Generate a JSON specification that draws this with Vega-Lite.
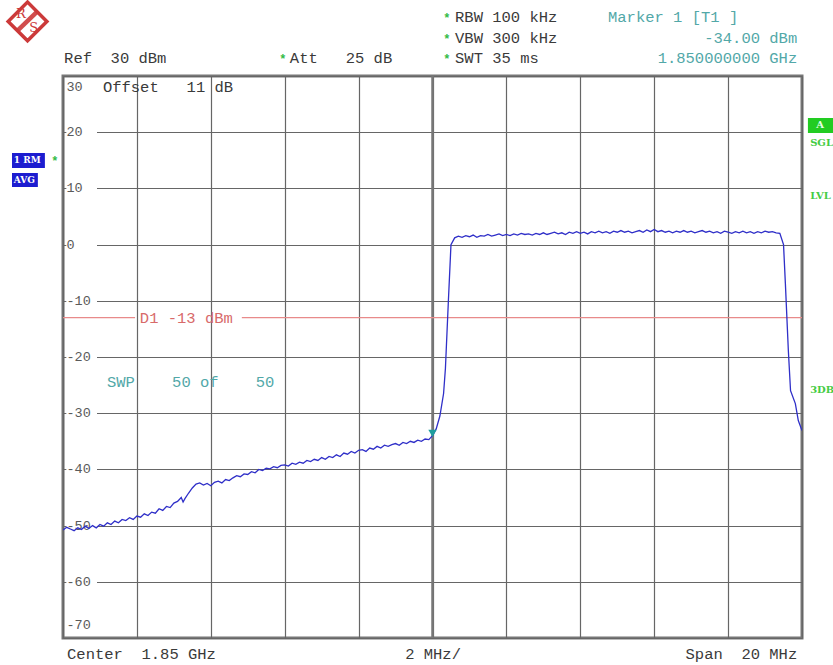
{
  "$schema": "https://vega.github.io/schema/vega-lite/v6.json",
  "width": 739,
  "height": 562,
  "autosize": "none",
  "padding": {"left": 63, "top": 76, "right": 31, "bottom": 27},
  "background": "white",
  "config": {
    "view": {"stroke": "#777777", "strokeWidth": 3},
    "text": {"font": "Liberation Mono", "fontSize": 15.5, "baseline": "middle"}
  },
  "datasets": {
    "trace": [
      {"f":1.8400,"dbm":-50.8},{"f":1.8401,"dbm":-50.3},{"f":1.8402,"dbm":-50.6},{"f":1.8403,"dbm":-50.9},{"f":1.8404,"dbm":-50.4},
      {"f":1.8405,"dbm":-50.7},{"f":1.8406,"dbm":-50.1},{"f":1.8407,"dbm":-50.5},{"f":1.8408,"dbm":-50.0},{"f":1.8409,"dbm":-50.4},
      {"f":1.8410,"dbm":-49.8},{"f":1.8411,"dbm":-50.1},{"f":1.8412,"dbm":-49.5},{"f":1.8413,"dbm":-49.8},{"f":1.8414,"dbm":-49.2},
      {"f":1.8415,"dbm":-49.5},{"f":1.8416,"dbm":-48.9},{"f":1.8417,"dbm":-49.1},{"f":1.8418,"dbm":-48.6},{"f":1.8419,"dbm":-48.9},
      {"f":1.8420,"dbm":-48.3},{"f":1.8421,"dbm":-48.5},{"f":1.8422,"dbm":-47.9},{"f":1.8423,"dbm":-48.2},{"f":1.8424,"dbm":-47.6},
      {"f":1.8425,"dbm":-47.8},{"f":1.8426,"dbm":-47.0},{"f":1.8427,"dbm":-47.3},{"f":1.8428,"dbm":-46.6},{"f":1.8429,"dbm":-46.8},
      {"f":1.8430,"dbm":-46.0},{"f":1.8431,"dbm":-45.7},{"f":1.8432,"dbm":-45.0},{"f":1.84325,"dbm":-45.8},{"f":1.8433,"dbm":-45.2},
      {"f":1.8434,"dbm":-44.2},{"f":1.8435,"dbm":-43.3},{"f":1.8436,"dbm":-42.6},{"f":1.8437,"dbm":-42.4},{"f":1.8438,"dbm":-42.8},
      {"f":1.8439,"dbm":-42.5},{"f":1.8440,"dbm":-42.9},{"f":1.8441,"dbm":-42.3},{"f":1.8442,"dbm":-42.1},{"f":1.8443,"dbm":-42.4},
      {"f":1.8444,"dbm":-41.8},{"f":1.8445,"dbm":-42.0},{"f":1.8446,"dbm":-41.5},{"f":1.8447,"dbm":-41.1},{"f":1.8448,"dbm":-41.3},
      {"f":1.8449,"dbm":-40.8},{"f":1.8450,"dbm":-40.9},{"f":1.8451,"dbm":-40.4},{"f":1.8452,"dbm":-40.6},{"f":1.8453,"dbm":-40.0},
      {"f":1.8454,"dbm":-40.2},{"f":1.8455,"dbm":-39.8},{"f":1.8456,"dbm":-39.9},{"f":1.8457,"dbm":-39.5},{"f":1.8458,"dbm":-39.7},
      {"f":1.8459,"dbm":-39.3},{"f":1.8460,"dbm":-39.2},{"f":1.8461,"dbm":-39.4},{"f":1.8462,"dbm":-38.9},{"f":1.8463,"dbm":-39.1},
      {"f":1.8464,"dbm":-38.7},{"f":1.8465,"dbm":-38.9},{"f":1.8466,"dbm":-38.4},{"f":1.8467,"dbm":-38.6},{"f":1.8468,"dbm":-38.2},
      {"f":1.8469,"dbm":-38.4},{"f":1.8470,"dbm":-37.9},{"f":1.8471,"dbm":-38.2},{"f":1.8472,"dbm":-37.7},{"f":1.8473,"dbm":-37.9},
      {"f":1.8474,"dbm":-37.4},{"f":1.8475,"dbm":-37.7},{"f":1.8476,"dbm":-37.1},{"f":1.8477,"dbm":-37.3},{"f":1.8478,"dbm":-36.8},
      {"f":1.8479,"dbm":-37.1},{"f":1.8480,"dbm":-36.6},{"f":1.8481,"dbm":-36.5},{"f":1.8482,"dbm":-36.8},{"f":1.8483,"dbm":-36.2},
      {"f":1.8484,"dbm":-36.4},{"f":1.8485,"dbm":-35.9},{"f":1.8486,"dbm":-36.2},{"f":1.8487,"dbm":-35.7},{"f":1.8488,"dbm":-35.9},
      {"f":1.8489,"dbm":-35.6},{"f":1.8490,"dbm":-35.4},{"f":1.8491,"dbm":-35.7},{"f":1.8492,"dbm":-35.2},{"f":1.8493,"dbm":-35.4},
      {"f":1.8494,"dbm":-35.0},{"f":1.8495,"dbm":-35.2},{"f":1.8496,"dbm":-34.8},{"f":1.8497,"dbm":-35.0},{"f":1.8498,"dbm":-34.6},
      {"f":1.8499,"dbm":-34.7},{"f":1.8500,"dbm":-34.0},
      {"f":1.8501,"dbm":-32.8},{"f":1.8502,"dbm":-30.5},{"f":1.8503,"dbm":-26.5},{"f":1.85035,"dbm":-22.0},{"f":1.85043,"dbm":-10.0},
      {"f":1.8505,"dbm":0.0},
      {"f":1.8506,"dbm":1.2},{"f":1.8507,"dbm":1.5},{"f":1.8508,"dbm":1.3},{"f":1.8509,"dbm":1.6},{"f":1.8510,"dbm":1.4},
      {"f":1.8511,"dbm":1.7},{"f":1.8512,"dbm":1.3},{"f":1.8513,"dbm":1.6},{"f":1.8514,"dbm":1.5},{"f":1.8515,"dbm":1.8},
      {"f":1.8516,"dbm":1.5},{"f":1.8517,"dbm":1.7},{"f":1.8518,"dbm":1.9},{"f":1.8519,"dbm":1.6},{"f":1.8520,"dbm":1.8},
      {"f":1.8521,"dbm":1.6},{"f":1.8522,"dbm":1.9},{"f":1.8523,"dbm":1.7},{"f":1.8524,"dbm":2.0},{"f":1.8525,"dbm":1.8},
      {"f":1.8526,"dbm":1.9},{"f":1.8527,"dbm":1.7},{"f":1.8528,"dbm":2.0},{"f":1.8529,"dbm":1.8},{"f":1.8530,"dbm":2.1},
      {"f":1.8531,"dbm":1.8},{"f":1.8532,"dbm":2.0},{"f":1.8533,"dbm":2.2},{"f":1.8534,"dbm":1.9},{"f":1.8535,"dbm":2.1},
      {"f":1.8536,"dbm":1.8},{"f":1.8537,"dbm":2.2},{"f":1.8538,"dbm":2.0},{"f":1.8539,"dbm":2.3},{"f":1.8540,"dbm":2.0},
      {"f":1.8541,"dbm":2.2},{"f":1.8542,"dbm":1.9},{"f":1.8543,"dbm":2.3},{"f":1.8544,"dbm":2.1},{"f":1.8545,"dbm":2.4},
      {"f":1.8546,"dbm":2.1},{"f":1.8547,"dbm":2.3},{"f":1.8548,"dbm":2.0},{"f":1.8549,"dbm":2.4},{"f":1.8550,"dbm":2.2},
      {"f":1.8551,"dbm":2.5},{"f":1.8552,"dbm":2.2},{"f":1.8553,"dbm":2.4},{"f":1.8554,"dbm":2.1},{"f":1.8555,"dbm":2.3},
      {"f":1.8556,"dbm":2.5},{"f":1.8557,"dbm":2.2},{"f":1.8558,"dbm":2.6},{"f":1.8559,"dbm":2.3},{"f":1.8560,"dbm":2.7},
      {"f":1.8561,"dbm":2.3},{"f":1.8562,"dbm":2.5},{"f":1.8563,"dbm":2.2},{"f":1.8564,"dbm":2.4},{"f":1.8565,"dbm":2.1},
      {"f":1.8566,"dbm":2.4},{"f":1.8567,"dbm":2.2},{"f":1.8568,"dbm":2.5},{"f":1.8569,"dbm":2.2},{"f":1.8570,"dbm":2.4},
      {"f":1.8571,"dbm":2.1},{"f":1.8572,"dbm":2.3},{"f":1.8573,"dbm":2.5},{"f":1.8574,"dbm":2.2},{"f":1.8575,"dbm":2.4},
      {"f":1.8576,"dbm":2.1},{"f":1.8577,"dbm":2.3},{"f":1.8578,"dbm":2.0},{"f":1.8579,"dbm":2.4},{"f":1.8580,"dbm":2.2},
      {"f":1.8581,"dbm":2.0},{"f":1.8582,"dbm":2.3},{"f":1.8583,"dbm":2.1},{"f":1.8584,"dbm":2.4},{"f":1.8585,"dbm":2.1},
      {"f":1.8586,"dbm":2.3},{"f":1.8587,"dbm":2.0},{"f":1.8588,"dbm":2.3},{"f":1.8589,"dbm":2.1},{"f":1.8590,"dbm":2.4},
      {"f":1.8591,"dbm":2.2},{"f":1.8592,"dbm":2.3},{"f":1.8593,"dbm":2.1},{"f":1.8594,"dbm":2.0},
      {"f":1.8595,"dbm":0.0},{"f":1.85955,"dbm":-6.9},{"f":1.85963,"dbm":-18.8},{"f":1.85969,"dbm":-26.0},
      {"f":1.85982,"dbm":-28.3},{"f":1.85990,"dbm":-31.3},{"f":1.8600,"dbm":-33.1}
    ],
    "ylabels": [
      {"dbm": 30, "label": "30"}, {"dbm": 20, "label": "20"}, {"dbm": 10, "label": "10"}, {"dbm": 0, "label": "0"},
      {"dbm": -10, "label": "-10"}, {"dbm": -20, "label": "-20"}, {"dbm": -30, "label": "-30"}, {"dbm": -40, "label": "-40"},
      {"dbm": -50, "label": "-50"}, {"dbm": -60, "label": "-60"}, {"dbm": -70, "label": "-70"}
    ],
    "center": [{"f": 1.85, "dbm": -70, "dbm2": 30}],
    "d1": [{"f": 1.84, "f2": 1.84195, "dbm": -13}, {"f": 1.84484, "f2": 1.86, "dbm": -13}],
    "marker": [{"f": 1.85, "dbm": -33.6}],
    "darkLeft": [
      {"f": 1.84003, "dbm": 33.2, "label": "Ref\u00a0\u00a030\u00a0dBm"},
      {"f": 1.84614, "dbm": 33.2, "label": "Att\u00a0\u00a0\u00a025\u00a0dB"},
      {"f": 1.85061, "dbm": 40.5, "label": "RBW\u00a0100\u00a0kHz"},
      {"f": 1.85061, "dbm": 36.8, "label": "VBW\u00a0300\u00a0kHz"},
      {"f": 1.85061, "dbm": 33.2, "label": "SWT\u00a035\u00a0ms"},
      {"f": 1.84011, "dbm": -72.9, "label": "Center\u00a0\u00a01.85\u00a0GHz"},
      {"f": 1.84926, "dbm": -72.9, "label": "2\u00a0MHz/"},
      {"f": 1.84108, "dbm": 28.0, "label": "Offset\u00a0\u00a0\u00a011\u00a0dB"}
    ],
    "darkRight": [{"f": 1.85987, "dbm": -72.9, "label": "Span\u00a0\u00a020\u00a0MHz"}],
    "stars": [
      {"f": 1.85039, "dbm": 40.3, "label": "*"},
      {"f": 1.85039, "dbm": 36.6, "label": "*"},
      {"f": 1.85039, "dbm": 33.0, "label": "*"},
      {"f": 1.84595, "dbm": 33.0, "label": "*"},
      {"f": 1.83978, "dbm": 14.9, "label": "*"}
    ],
    "tealLeft": [
      {"f": 1.85475, "dbm": 40.5, "label": "Marker\u00a01\u00a0[T1\u00a0]"},
      {"f": 1.84119, "dbm": -24.45, "label": "SWP\u00a0\u00a0\u00a0\u00a050\u00a0of\u00a0\u00a0\u00a0\u00a050"}
    ],
    "tealRight": [
      {"f": 1.85987, "dbm": 36.8, "label": "-34.00\u00a0dBm"},
      {"f": 1.85987, "dbm": 33.2, "label": "1.850000000\u00a0GHz"}
    ],
    "red": [{"f": 1.84208, "dbm": -13, "label": "D1\u00a0-13\u00a0dBm"}],
    "greenSide": [
      {"f": 1.86022, "dbm": 18.1, "label": "SGL"},
      {"f": 1.86022, "dbm": 8.65, "label": "LVL"},
      {"f": 1.86022, "dbm": -25.9, "label": "3DB"}
    ],
    "blueBoxes": [
      {"f": 1.83862, "f2": 1.83951, "dbm": 16.3, "dbm2": 13.63},
      {"f": 1.83862, "f2": 1.83932, "dbm": 12.74, "dbm2": 10.25}
    ],
    "greenBox": [{"f": 1.86016, "f2": 1.86084, "dbm": 22.53, "dbm2": 19.86}],
    "whiteLeft": [
      {"f": 1.83867, "dbm": 15.0, "label": "1\u00a0RM"},
      {"f": 1.83867, "dbm": 11.5, "label": "AVG"}
    ],
    "whiteCenter": [{"f": 1.86049, "dbm": 21.2, "label": "A"}],
    "logo": [{"f": 1.83904, "dbm": 39.7}],
    "logoBar": [{"f": 1.838755, "f2": 1.839323, "dbm": 38.0, "dbm2": 41.57}],
    "logoText": [
      {"f": 1.83886, "dbm": 41.0, "label": "R"},
      {"f": 1.83921, "dbm": 38.5, "label": "S"}
    ]
  },
  "layer": [
    {
      "encoding": {
        "x": {"field": "f", "type": "quantitative",
              "scale": {"domain": [1.84, 1.86], "nice": false, "zero": false},
              "axis": {"values": [1.84, 1.842, 1.844, 1.846, 1.848, 1.85, 1.852, 1.854, 1.856, 1.858, 1.86],
                       "grid": true, "gridColor": "#666666", "gridWidth": 1.2, "gridOpacity": 1,
                       "labels": false, "ticks": false, "domain": false, "title": null}},
        "y": {"field": "dbm", "type": "quantitative",
              "scale": {"domain": [-70, 30], "nice": false, "zero": false},
              "axis": {"values": [-70, -60, -50, -40, -30, -20, -10, 0, 10, 20, 30],
                       "grid": true, "gridColor": "#666666", "gridWidth": 1.2, "gridOpacity": 1,
                       "ticks": false, "domain": false, "title": null, "labels": false}}
      },
      "layer": [
        {
          "data": {"name": "center"},
          "mark": {"type": "rule", "color": "#777777", "strokeWidth": 2.5},
          "encoding": {"y2": {"field": "dbm2"}}
        },
        {
          "data": {"name": "d1"},
          "mark": {"type": "rule", "color": "#e88a8a", "strokeWidth": 1.2},
          "encoding": {"x2": {"field": "f2"}}
        }
      ]
    },
    {
      "data": {"name": "ylabels"},
      "encoding": {
        "x": {"datum": 1.840095, "type": "quantitative",
              "scale": {"domain": [1.84, 1.86], "nice": false, "zero": false},
              "axis": {"values": [1.84, 1.842, 1.844, 1.846, 1.848, 1.85, 1.852, 1.854, 1.856, 1.858, 1.86],
                       "grid": true, "gridColor": "#666666", "gridWidth": 1.2, "gridOpacity": 1,
                       "labels": false, "ticks": false, "domain": false, "title": null}},
        "y": {"field": "dbm", "type": "quantitative",
              "scale": {"domain": [-70, 30], "nice": false, "zero": false},
              "axis": {"values": [-70, -60, -50, -40, -30, -20, -10, 0, 10, 20, 30],
                       "grid": true, "gridColor": "#666666", "gridWidth": 1.2, "gridOpacity": 1,
                       "ticks": false, "domain": false, "title": null, "labels": false}},
        "text": {"field": "label"}
      },
      "layer": [
        {
          "transform": [{"filter": "datum.dbm > -70 && datum.dbm < 30"}],
          "mark": {"type": "rect", "color": "white", "height": 12},
          "encoding": {"x": {"datum": 1.84009}, "x2": {"datum": 1.84092}, "text": null}
        },
        {
          "transform": [{"filter": "datum.dbm > -70 && datum.dbm < 30"}],
          "mark": {"type": "text", "align": "left", "color": "#5a5a5a", "fontSize": 13.5}
        },
        {
          "transform": [{"filter": "datum.dbm == 30"}],
          "mark": {"type": "text", "align": "left", "baseline": "top", "dy": 4, "color": "#5a5a5a", "fontSize": 13.5}
        },
        {
          "transform": [{"filter": "datum.dbm == -70"}],
          "mark": {"type": "text", "align": "left", "baseline": "bottom", "dy": -6, "color": "#5a5a5a", "fontSize": 13.5}
        }
      ]
    },
    {
      "encoding": {
        "x": {"field": "f", "type": "quantitative",
              "scale": {"domain": [1.84, 1.86], "nice": false, "zero": false},
              "axis": {"values": [1.84, 1.842, 1.844, 1.846, 1.848, 1.85, 1.852, 1.854, 1.856, 1.858, 1.86],
                       "grid": true, "gridColor": "#666666", "gridWidth": 1.2, "gridOpacity": 1,
                       "labels": false, "ticks": false, "domain": false, "title": null}},
        "y": {"field": "dbm", "type": "quantitative",
              "scale": {"domain": [-70, 30], "nice": false, "zero": false},
              "axis": {"values": [-70, -60, -50, -40, -30, -20, -10, 0, 10, 20, 30],
                       "grid": true, "gridColor": "#666666", "gridWidth": 1.2, "gridOpacity": 1,
                       "ticks": false, "domain": false, "title": null, "labels": false}}
      },
      "layer": [
        {
          "data": {"name": "trace"},
          "mark": {"type": "line", "color": "#2f2fc8", "strokeWidth": 1.3, "clip": true},
          "encoding": {}
        },
        {
          "data": {"name": "marker"},
          "mark": {"type": "point", "shape": "triangle-down", "filled": true, "color": "#1f9e9e", "size": 70, "opacity": 1},
          "encoding": {}
        },
        {
          "data": {"name": "darkLeft"},
          "mark": {"type": "text", "align": "left", "color": "#3a3a3a"},
          "encoding": {"text": {"field": "label"}}
        },
        {
          "data": {"name": "darkRight"},
          "mark": {"type": "text", "align": "right", "color": "#3a3a3a"},
          "encoding": {"text": {"field": "label"}}
        },
        {
          "data": {"name": "stars"},
          "mark": {"type": "text", "align": "center", "color": "#33bb44", "fontSize": 12, "fontWeight": "bold"},
          "encoding": {"text": {"field": "label"}}
        },
        {
          "data": {"name": "tealLeft"},
          "mark": {"type": "text", "align": "left", "color": "#52a8a8"},
          "encoding": {"text": {"field": "label"}}
        },
        {
          "data": {"name": "tealRight"},
          "mark": {"type": "text", "align": "right", "color": "#52a8a8"},
          "encoding": {"text": {"field": "label"}}
        },
        {
          "data": {"name": "red"},
          "mark": {"type": "text", "align": "left", "color": "#d86a6a"},
          "encoding": {"text": {"field": "label"}}
        },
        {
          "data": {"name": "greenSide"},
          "mark": {"type": "text", "align": "left", "color": "#44cc44", "font": "DejaVu Serif", "fontSize": 10, "fontWeight": "bold"},
          "encoding": {"text": {"field": "label"}}
        },
        {
          "data": {"name": "blueBoxes"},
          "mark": {"type": "rect", "color": "#1c1cd0"},
          "encoding": {"x2": {"field": "f2"}, "y2": {"field": "dbm2"}}
        },
        {
          "data": {"name": "greenBox"},
          "mark": {"type": "rect", "color": "#22cc22"},
          "encoding": {"x2": {"field": "f2"}, "y2": {"field": "dbm2"}}
        },
        {
          "data": {"name": "whiteLeft"},
          "mark": {"type": "text", "align": "left", "color": "white", "font": "DejaVu Serif", "fontSize": 9, "fontWeight": "bold"},
          "encoding": {"text": {"field": "label"}}
        },
        {
          "data": {"name": "whiteCenter"},
          "mark": {"type": "text", "align": "center", "color": "#e8ffe8", "font": "DejaVu Serif", "fontSize": 10, "fontWeight": "bold"},
          "encoding": {"text": {"field": "label"}}
        },
        {
          "data": {"name": "logo"},
          "mark": {"type": "point", "shape": "diamond", "filled": false, "color": "#cc3a3a", "strokeWidth": 3.5, "size": 1500, "opacity": 1},
          "encoding": {}
        },
        {
          "data": {"name": "logoBar"},
          "mark": {"type": "rule", "color": "#cc3a3a", "strokeWidth": 4.5, "opacity": 0.9},
          "encoding": {"x2": {"field": "f2"}, "y2": {"field": "dbm2"}}
        },
        {
          "data": {"name": "logoText"},
          "mark": {"type": "text", "align": "center", "color": "#cc3a3a", "font": "DejaVu Serif", "fontSize": 13},
          "encoding": {"text": {"field": "label"}}
        }
      ]
    }
  ]
}
